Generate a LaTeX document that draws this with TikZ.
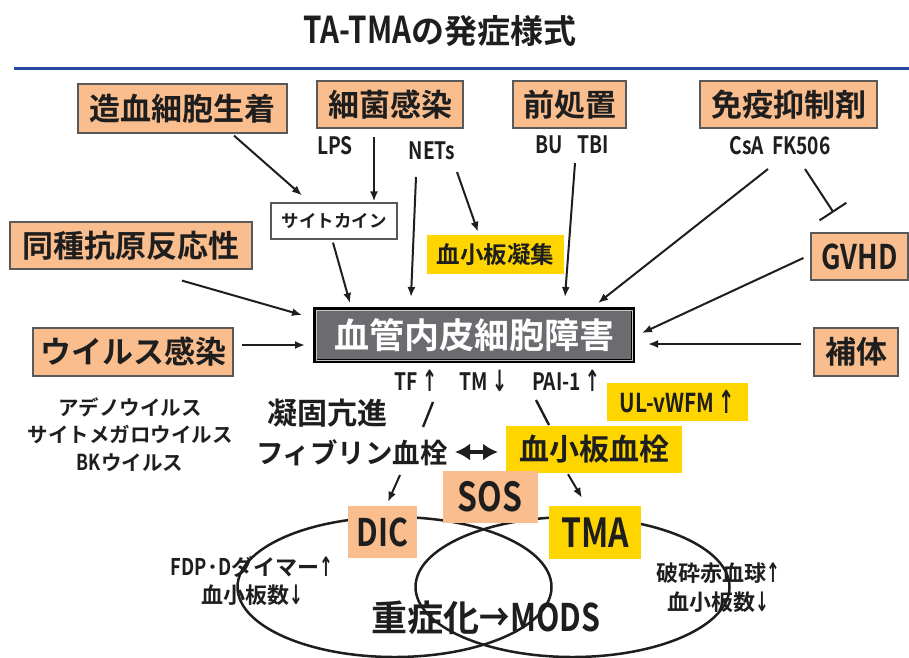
\documentclass[tikz,border=0pt]{standalone}
\usepackage{fontspec}
\usetikzlibrary{arrows.meta}
\newfontfamily\jp{Noto Sans CJK JP Bold}
\newfontfamily\jpn{Noto Sans CJK JP Bold}[FakeStretch=0.8]
\newfontfamily\dvb{DejaVu Sans Bold}
\definecolor{peach}{RGB}{250,190,142}
\definecolor{ylw}{RGB}{255,213,0}
\definecolor{ink}{RGB}{30,30,30}
\definecolor{bline}{RGB}{40,72,160}
\definecolor{egray}{RGB}{108,108,112}
\newcommand{\fs}[1]{\fontsize{#1}{#1}\selectfont}
\newcommand{\fss}[2]{\fontsize{#1}{#2}\selectfont}
\newcommand{\uarr}{{\dvb\raisebox{-0.06em}{\scalebox{0.75}[1.22]{↑}}}}
\newcommand{\darr}{{\dvb\raisebox{-0.06em}{\scalebox{0.75}[1.22]{↓}}}}
\tikzset{
  box/.style={fill=peach, draw=gray!70!black, line width=1.2pt, inner sep=0pt, font=\jp\fs{31}, text=ink},
  ybox/.style={fill=ylw, inner sep=0pt, text=ink},
  pbox/.style={fill=peach, inner sep=0pt, text=ink},
  lbl/.style={inner sep=0pt, font=\jpn\fs{24}, text=ink},
  txt/.style={inner sep=0pt, text=ink},
  arr/.style={draw=ink, line width=2pt, -{Latex[length=10pt,width=8pt]}},
  seg/.style={draw=ink, line width=2.4pt},
}
\begin{document}
\begin{tikzpicture}[x=1pt,y=-1pt]
\fill[white] (0,0) rectangle (909,657);
\useasboundingbox (0,0) rectangle (909,657);

% title and rule
\node[txt, font=\jp\fs{33}] (title) at (440,31) {{\jpn\fs{37}TA-TMA}の発症様式};
\coordinate (r1) at (14,68);
\coordinate (r2) at (909,68);
\draw[bline, line width=3pt] (r1) -- (r2);

% ellipses
\draw[ink, line width=2.5pt] (394.5,587) ellipse [x radius=157, y radius=70];
\draw[ink, line width=2.5pt] (572.5,587) ellipse [x radius=157, y radius=70];

% top boxes
\node[box, minimum width=209pt, minimum height=49pt] (zoketsu) at (182.5,108.5) {造血細胞生着};
\node[box, minimum width=146pt, minimum height=47pt] (saikin) at (390,104.5) {細菌感染};
\node[box, minimum width=113pt, minimum height=47pt] (zensho) at (569.5,104.5) {前処置};
\node[box, minimum width=177pt, minimum height=47pt] (meneki) at (788.5,104.5) {免疫抑制剤};
\node[box, minimum width=242pt, minimum height=47pt] (doshu) at (131,245.5) {同種抗原反応性};
\node[box, minimum width=200pt, minimum height=48pt] (virus) at (133,352) {ウイルス感染};
\node[box, minimum width=97pt, minimum height=47pt, font=\jpn\fs{34}] (gvhd) at (859.5,256.5) {GVHD};
\node[box, minimum width=84pt, minimum height=48pt] (hotai) at (856,352) {補体};

\node[draw=gray!70!black, fill=white, line width=1.2pt, minimum width=126pt, minimum height=36pt, inner sep=0pt, font=\jp\fs{17.5}, text=ink] (cyto) at (334,221) {サイトカイン};
\node[ybox, minimum width=137pt, minimum height=39pt, font=\jp\fs{23.5}] (plagg) at (495.5,254.5) {血小板凝集};

% endothelial box
\node[fill=egray, draw=black, line width=4pt, minimum width=318pt, minimum height=52pt, inner sep=0pt, text=white, font=\jp\fs{35}] (eb) at (474,335) {血管内皮細胞障害};
\draw[gray!45, line width=1pt] ([shift={(3,3)}]eb.north west) rectangle ([shift={(-3,-3)}]eb.south east);

% small labels
\node[lbl] (lps) at (335,146) {LPS};
\node[lbl] (nets) at (432,151) {NETs};
\node[lbl] (butbi) at (572,145) {BU\hspace{14pt}TBI};
\node[lbl] (csa) at (780,146) {CsA\, FK506};
\node[lbl] (tf) at (416,381) {TF\,\uarr};
\node[lbl] (tm) at (483.5,381) {TM\,\darr};
\node[lbl] (pai) at (566,381) {PAI-1\,\uarr};
\node[ybox, minimum width=141pt, minimum height=38pt, font=\jpn\fs{26}] (ulvwf) at (677.5,402) {UL-vWFM\,\uarr};

\node[txt, font=\jp\fss{20.5}{27.5}, align=center] (virlist) at (130,434.5) {アデノウイルス\\サイトメガロウイルス\\{\jpn\fs{22}BK}ウイルス};
\node[txt, font=\jp\fs{30}] (gyoko) at (327,413) {凝固亢進};
\node[txt, font=\jp\fs{27.5}] (fib) at (352,453) {フィブリン血栓};
\node[ybox, minimum width=176pt, minimum height=47pt, font=\jp\fs{30}] (plt) at (594,449.5) {血小板血栓};

% disease boxes
\node[pbox, minimum width=95pt, minimum height=52pt, font=\jpn\fs{40}] (sos) at (490,497) {SOS};
\node[pbox, minimum width=69pt, minimum height=52pt, font=\jpn\fs{38}] (dic) at (382.5,532) {DIC};
\node[ybox, minimum width=92pt, minimum height=53pt, font=\jpn\fs{40}] (tma) at (595,532.5) {TMA};

\node[txt, font=\jp\fss{22}{28}, align=center] (fdp) at (252,581) {{\jpn\fs{23}FDP}･{\jpn\fs{23}D}ダイマー\uarr\\血小板数\darr};
\node[txt, font=\jp\fss{22}{29}, align=center] (hasai) at (718,587.5) {破砕赤血球\uarr\\血小板数\darr};
\node[txt, font=\jp\fs{36}] (mods) at (486,618) {重症化{\jpn\fs{38}→MODS}};

% free ends
\coordinate (lpsS) at (374,137);
\coordinate (netsL) at (416,177);
\coordinate (netsR) at (457,172);
\coordinate (buS) at (575,163);
\coordinate (csaL) at (768,169);
\coordinate (csaR) at (805,169);
\coordinate (tf1) at (433,402);
\coordinate (tf2) at (423,427);
\coordinate (pai1) at (536,400);
\coordinate (pai2) at (549,425);
\coordinate (fibS) at (400,475);
\coordinate (da1) at (455,452);
\coordinate (da2) at (498,452);

% connectors
\draw[arr] ([shift={(51.5,2)}]zoketsu.south) -- ([shift={(-32,-7)}]cyto.north);
\draw[arr] (lpsS) -- ([shift={(40,-1)}]cyto.north);
\draw[arr] ([shift={(-1,3)}]cyto.south) -- ([shift={(-124,-4)}]eb.north);
\draw[arr] (netsL) -- ([shift={(-63,-10)}]eb.north);
\draw[arr] (netsR) -- ([shift={(-17.5,-3)}]plagg.north);
\draw[arr] (buS) -- ([shift={(91,-10)}]eb.north);
\draw[arr] (csaL) -- ([shift={(124,-4)}]eb.north);
\draw[draw=ink, line width=2pt, -{Bar[width=32pt,line width=2pt]}] (csaR) -- ([shift={(-26,-20)}]gvhd.north);
\draw[arr] ([shift={(51,11)}]doshu.south) -- ([shift={(-11,-20)}]eb.west);
\draw[arr] ([shift={(8,-7)}]virus.east) -- ([shift={(-8,10)}]eb.west);
\draw[arr] ([shift={(-7,1.5)}]gvhd.west) -- ([shift={(7,-2)}]eb.east);
\draw[arr] ([shift={(-12,-8)}]hotai.west) -- ([shift={(13,9)}]eb.east);
\draw[seg] (tf1) -- (tf2);
\draw[seg] (pai1) -- (pai2);
\draw[arr] (fibS) -- ([shift={(5.5,-4)}]dic.north);
\draw[arr] ([shift={(-26,1)}]plt.south) -- ([shift={(-13,-8)}]tma.north);
\draw[draw=ink, line width=4pt, {Latex[length=15pt,width=17pt]}-{Latex[length=15pt,width=17pt]}] (da1) -- (da2);
\end{tikzpicture}
\end{document}
